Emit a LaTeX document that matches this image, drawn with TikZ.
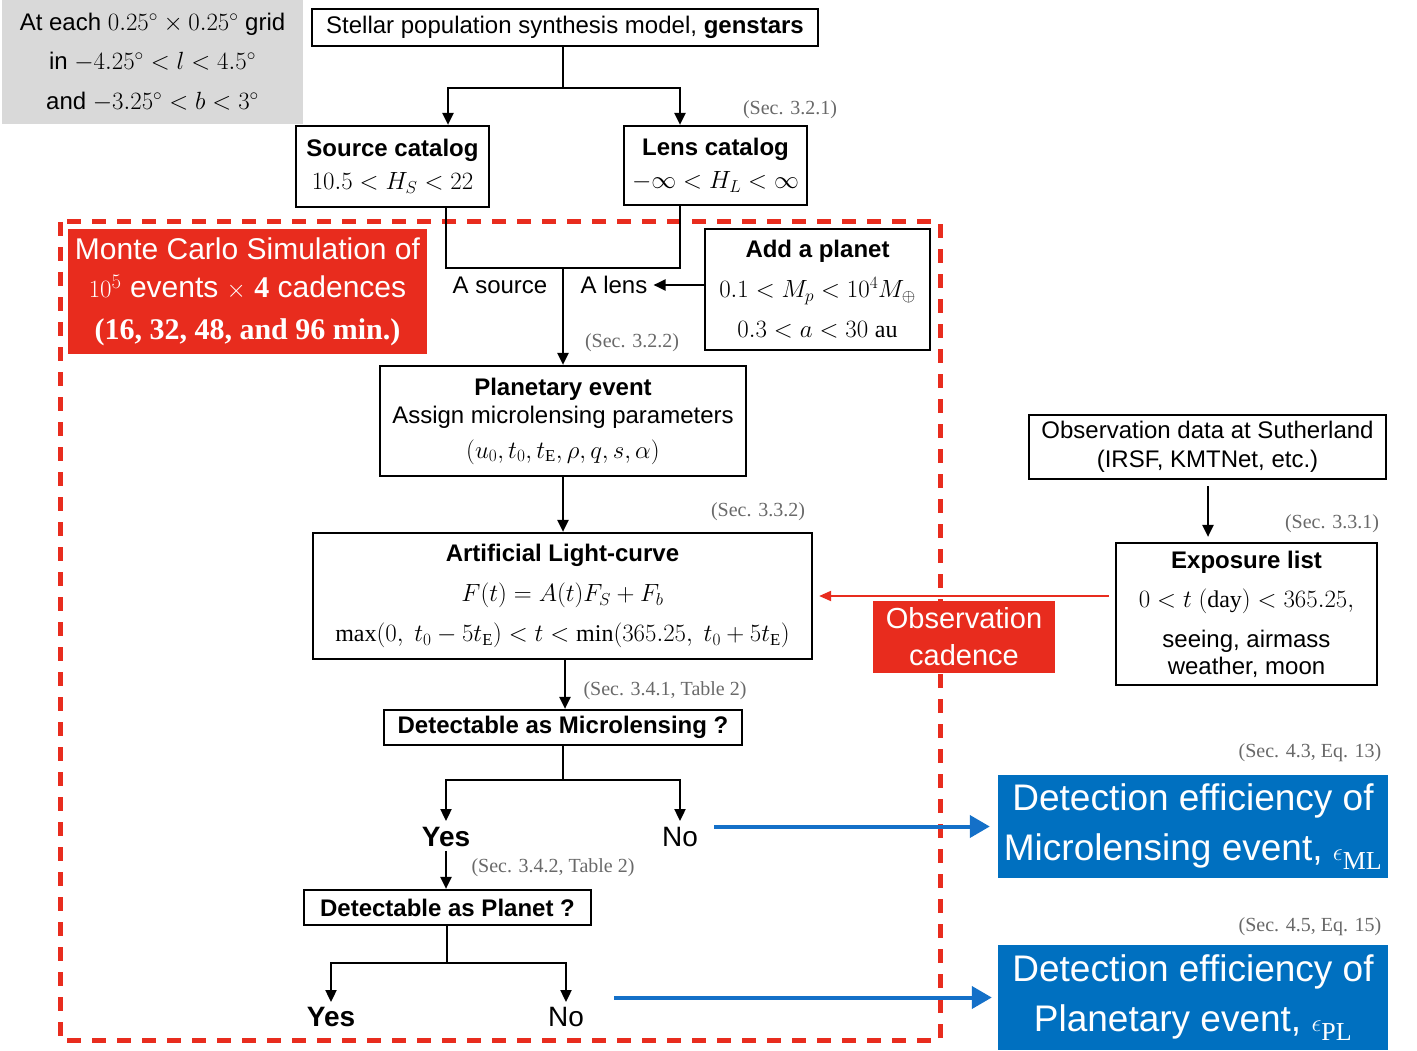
\documentclass[tikz,border=0pt]{standalone}
\usepackage{fontspec}
\setmainfont{Liberation Sans}
\newfontfamily\seriffam{Liberation Serif}
\setmathrm{Liberation Serif}
\usetikzlibrary{arrows.meta}
\newcommand\myfs[2]{\fontsize{#1}{#2}\selectfont}
\definecolor{redc}{RGB}{232,44,30}
\definecolor{bluec}{RGB}{0,112,192}
\definecolor{bluearr}{RGB}{20,112,200}
\definecolor{grayc}{RGB}{217,217,217}
\definecolor{secgray}{RGB}{105,105,105}
\tikzset{
  bx/.style={draw, line width=2.2pt, align=center, inner sep=0pt, font=\myfs{24}{30}},
  arr/.style={line width=2.2pt, -{Triangle[length=12pt,width=11pt]}},
  ln/.style={line width=2.2pt},
  sec/.style={font=\seriffam\myfs{20}{22}, text=secgray, inner sep=0pt},
  lbl/.style={font=\myfs{24}{28}, inner sep=0pt},
  yn/.style={font=\myfs{28}{30}, inner sep=0pt},
  redbox/.style={fill=redc, text=white, align=center, inner sep=0pt},
  bluebox/.style={fill=bluec, text=white, align=center, inner sep=0pt, font=\myfs{37}{50}},
  bluearrow/.style={draw=bluearr, line width=4pt, -{Triangle[length=20pt,width=22pt]}},
  redarrow/.style={draw=redc, line width=2pt, -{Triangle[length=12pt,width=10pt]}},
  reddash/.style={draw=redc, line width=5pt, dash pattern=on 14pt off 11pt}
}
\begin{document}
\begin{tikzpicture}[x=1pt,y=-1pt]
\useasboundingbox (0,0) rectangle (1417,1051);

% red dashed frame
\draw[reddash] (60,222) rectangle (940,1040);

% gray grid box
\node[fill=grayc, align=center, inner sep=0pt, minimum width=301, minimum height=124, font=\myfs{24}{39.5}] (grid) at (152.5,62)
  {At each $0.25^\circ\times0.25^\circ$ grid\\ in $-4.25^\circ<l<4.5^\circ$\\ and $-3.25^\circ<b<3^\circ$};

% boxes
\node[bx, minimum width=506, minimum height=37] (top) at (565,27.5)
  {Stellar population synthesis model, \textbf{genstars}};
\node[bx, minimum width=193, minimum height=81, font=\myfs{24}{33}] (src) at (392.5,166.5)
  {\textbf{Source catalog}\\ $10.5<H_S<22$};
\node[bx, minimum width=183, minimum height=79, font=\myfs{24}{33}] (lens) at (715.5,165.5)
  {\textbf{Lens catalog}\\ $-\infty<H_L<\infty$};
\node[bx, minimum width=225, minimum height=121, font=\myfs{24}{40}] (planet) at (817.5,289.5)
  {\textbf{Add a planet}\\ $0.1<M_p<10^4M_\oplus$\\ $0.3<a<30\ \mathrm{au}$};
\node[bx, minimum width=366, minimum height=110, font=\myfs{24}{28}] (plan) at (563,421)
  {\textbf{Planetary event}\\ Assign microlensing parameters\\[7pt] $(u_0,t_0,t_{\mathrm{E}},\rho,q,s,\alpha)$};
\node[bx, minimum width=499, minimum height=126, font=\myfs{24}{40}] (lc) at (562.5,596)
  {\textbf{Artificial Light-curve}\\ $F(t)=A(t)F_S+F_b$\\ $\max(0,\ t_0-5t_{\mathrm{E}})<t<\min(365.25,\ t_0+5t_{\mathrm{E}})$};
\node[bx, minimum width=358, minimum height=35] (detml) at (563,727.5)
  {\textbf{Detectable as Microlensing ?}};
\node[bx, minimum width=287, minimum height=35] (detpl) at (447.5,907.5)
  {\textbf{Detectable as Planet ?}};
\node[bx, minimum width=357, minimum height=64, font=\myfs{24}{29}] (obs) at (1207.5,447)
  {Observation data at Sutherland\\ (IRSF, KMTNet, etc.)};
\node[bx, minimum width=261, minimum height=142, font=\myfs{24}{27}] (expo) at (1246.5,614)
  {\textbf{Exposure list}\\[12pt] $0<t\ \mathrm{(day)}<365.25,$\\[13pt] seeing, airmass\\ weather, moon};

% red boxes
\node[redbox, minimum width=359, minimum height=125, font=\myfs{30}{38}] (mc) at (247.5,291.5)
  {Monte Carlo Simulation of\\ $10^5$ events $\times$ $\mathbf{4}$ cadences\\[4pt] {\seriffam\bfseries (16, 32, 48, and 96 min.)}};

% labels
\node[lbl] (asrc) at (500,285) {A source};
\node[lbl] (alens) at (614,285) {A lens};
\node[yn, font=\myfs{28}{30}\bfseries] (yes1) at (446,837) {Yes};
\node[yn] (no1) at (680,837) {No};
\node[yn, font=\myfs{28}{30}\bfseries] (yes2) at (331,1017) {Yes};
\node[yn] (no2) at (566,1017) {No};

% section refs
\node[sec] at (790,110) {(Sec. 3.2.1)};
\node[sec] at (632,343) {(Sec. 3.2.2)};
\node[sec] at (758,512) {(Sec. 3.3.2)};
\node[sec] at (665,691) {(Sec. 3.4.1, Table 2)};
\node[sec] at (553,868) {(Sec. 3.4.2, Table 2)};
\node[sec] at (1332,524) {(Sec. 3.3.1)};
\node[sec] at (1310,753) {(Sec. 4.3, Eq. 13)};
\node[sec] at (1310,927) {(Sec. 4.5, Eq. 15)};

% coordinates
\coordinate (j1) at (563,88);
\coordinate (sx) at (448,0);
\coordinate (lx) at (680,0);
\coordinate (jl) at (446,268);
\coordinate (jr) at (680,268);
\coordinate (jm) at (563,268);
\coordinate (j2) at (563,780);
\coordinate (j3) at (447,963);
\coordinate (ax) at (565,0);
\coordinate (ox) at (1208,0);

% connectors
\draw[ln] (top.south -| j1) -- (j1);
\draw[arr] (j1) -| (src.north -| sx);
\draw[arr] (j1) -| (lens.north -| lx);
\draw[ln] (src.south -| jl) -- (jl) -- (jr) -- (lens.south -| jr);
\draw[arr] (jm) -- (plan.north -| jm);
\draw[arr] (planet.west |- alens) -- ([xshift=6pt]alens.east);
\draw[arr] (plan.south) -- (lc.north -| plan.south);
\draw[arr] (lc.south -| ax) -- (detml.north -| ax);
\draw[ln] (detml.south) -- (j2);
\draw[arr] (j2) -| ([yshift=6pt]yes1.north);
\draw[arr] (j2) -| ([yshift=6pt]no1.north);
\draw[arr] ([yshift=-4pt]yes1.south) -- (detpl.north -| yes1.south);
\draw[ln] (detpl.south -| j3) -- (j3);
\draw[arr] (j3) -| ([yshift=5pt]yes2.north);
\draw[arr] (j3) -| ([yshift=5pt]no2.north);
\draw[arr, shorten <=6pt, shorten >=5pt] (obs.south -| ox) -- (expo.north -| ox);

% red cadence arrow and box
\draw[redarrow, shorten <=6pt, shorten >=6pt] (lc.east -| expo.west) -- (lc.east);
\node[redbox, minimum width=182, minimum height=72, font=\myfs{29}{37}] (cad) at (964,637)
  {Observation\\ cadence};

% blue boxes
\node[bluebox, minimum width=390, minimum height=103] (eml) at (1193,826.5)
  {Detection efficiency of\\ Microlensing event, $\epsilon_{\mathrm{ML}}$};
\node[bluebox, minimum width=390, minimum height=105] (epl) at (1193,997.5)
  {Detection efficiency of\\ Planetary event, $\epsilon_{\mathrm{PL}}$};

\draw[bluearrow, shorten <=16pt, shorten >=8pt] (no1.east |- eml.west) -- (eml.west);
\draw[bluearrow, shorten <=30pt, shorten >=6pt] (no2.east |- epl.west) -- (epl.west);
\end{tikzpicture}
\end{document}
